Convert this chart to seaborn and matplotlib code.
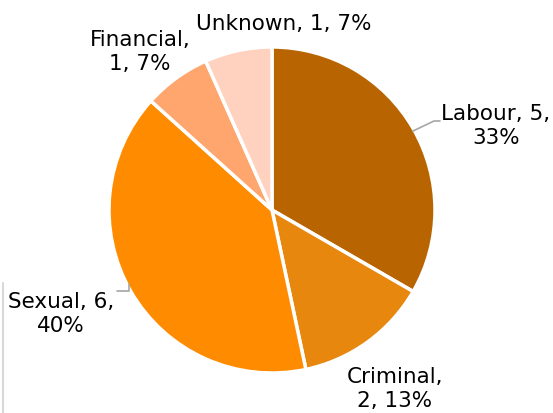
import matplotlib
matplotlib.use("Agg")
import matplotlib.pyplot as plt
import seaborn as sns

categories = ["Labour", "Criminal", "Sexual", "Financial", "Unknown"]
counts = [5, 2, 6, 1, 1]
colors = ["#B86400", "#E8870E", "#FF8B00", "#FFA66E", "#FFD1BF"]

sns.set_style("white")
plt.rcParams['font.family'] = ['DejaVu Sans']

W, H = 553, 413
fig = plt.figure(figsize=(W / 100, H / 100), dpi=100)
ax = fig.add_axes([0, 0, 1, 1])

cx, cy, r = 272, H - 210, 163
ax.pie(counts, colors=sns.color_palette(colors), startangle=90, counterclock=False,
       center=(cx, cy), radius=r, frame=True,
       wedgeprops=dict(edgecolor="white", linewidth=2.5))
ax.set_xlim(0, W)
ax.set_ylim(0, H)
ax.axis("off")

total = sum(counts)
labels = [f"{c}, {v}, {round(100 * v / total)}%" for c, v in zip(categories, counts)]
# layout: position (pixel center) and where to break the line
layout = {
    "Labour": ((496, 126), 2),
    "Criminal": ((395, 389), 1),
    "Sexual": ((61, 314), 2),
    "Financial": ((140, 52), 1),
    "Unknown": ((284, 24), 0),
}
for cat, lab in zip(categories, labels):
    (px, py), nb = layout[cat]
    parts = lab.split(", ")
    if nb:
        text = ", ".join(parts[:nb]) + ",\n" + ", ".join(parts[nb:])
    else:
        text = lab
    ax.text(px, H - py, text, ha="center", va="center", fontsize=15.5,
            color="black", linespacing=1.3)

# leader lines
lc = "#A6A6A6"
ax.plot([413, 434, 440], [H - 131, H - 121, H - 121], color=lc, lw=1.2)
ax.plot([117, 129, 129], [H - 291, H - 291, H - 284], color=lc, lw=1.2)
# faint left border
ax.plot([3, 3], [H - 283, 0], color="#D9D9D9", lw=1.5)

fig.savefig("out.png", dpi=100)
